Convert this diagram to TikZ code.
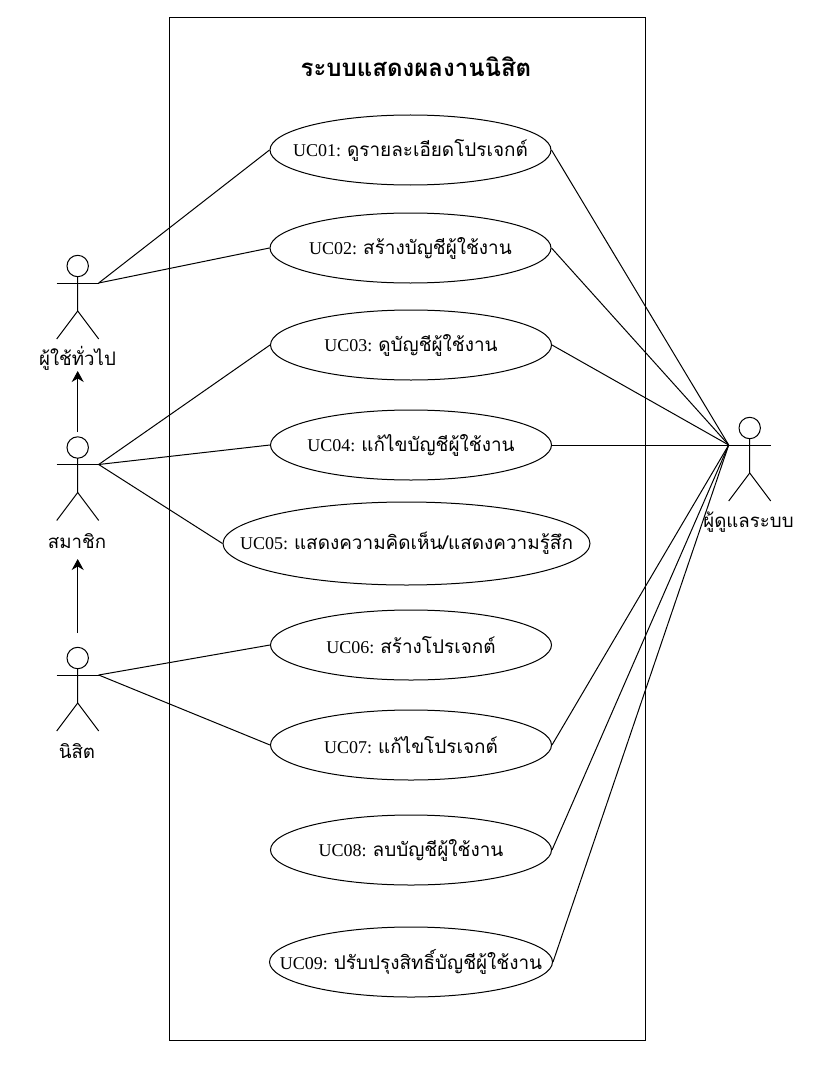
\documentclass[tikz,border=0pt]{standalone}
\usepackage{fontspec}
\setmainfont{Liberation Serif}
\newfontfamily\thaifont[Script=Thai]{Loma}
\usetikzlibrary{shapes.geometric,arrows.meta}
\newcommand{\thx}[1]{{\fontsize{14.2}{16}\selectfont\thaifont #1}}
\tikzset{
  uc/.style={draw,ellipse,inner sep=0pt,minimum width=210.75pt,minimum height=52.5pt,line width=0.75pt,
    label={[inner sep=0pt,font=\fontsize{13.5}{16}\selectfont]center:#1}},
  lnk/.style={draw,line width=0.75pt},
  actorline/.style={draw,line width=0.75pt},
  actorlabel/.style={inner sep=0pt,font=\fontsize{14}{16}\selectfont\thaifont},
  gen/.style={draw,line width=0.75pt,-{Stealth[length=8.25pt,width=9pt]}},
}
\newcommand{\actor}[3]{% name, x, arm y
  \draw[actorline] (#2,#3-17) circle[radius=10.7];
  \draw[actorline] (#2,#3-6.5) -- (#2,#3+28) -- (#2-21,#3+56);
  \draw[actorline] (#2,#3+28) -- (#2+21,#3+56);
  \draw[actorline] (#2-21,#3) coordinate (#1L) -- (#2+21,#3) coordinate (#1R);
}
\begin{document}
\begin{tikzpicture}[x=0.75pt,y=-0.75pt]
\useasboundingbox (0,0) rectangle (834,1070);
\node[draw,line width=0.75pt,minimum width=357pt,minimum height=767.25pt,inner sep=0pt] (frame) at (407,529) {};
\node[inner sep=0pt,font=\fontsize{18}{20}\selectfont\bfseries\thaifont] (title) at (416,67) {ระบบแสดงผลงานนิสิต};

\node[uc={UC01: \thx{ดูรายละเอียดโปรเจกต์}}] (u1) at (410.5,150) {};
\node[uc={UC02: \thx{สร้างบัญชีผู้ใช้งาน}}] (u2) at (410.5,248) {};
\node[uc={UC03: \thx{ดูบัญชีผู้ใช้งาน}}] (u3) at (411,345) {};
\node[uc={UC04: \thx{แก้ไขบัญชีผู้ใช้งาน}}] (u4) at (411,445) {};
\node[uc={UC05: \thx{แสดงความคิดเห็น/แสดงความรู้สึก}},minimum width=275.25pt,minimum height=62.25pt] (u5) at (406.5,543.5) {};
\node[uc={UC06: \thx{สร้างโปรเจกต์}}] (u6) at (411,645) {};
\node[uc={UC07: \thx{แก้ไขโปรเจกต์}}] (u7) at (411,745) {};
\node[uc={UC08: \thx{ลบบัญชีผู้ใช้งาน}}] (u8) at (411,850) {};
\node[uc={UC09: \thx{ปรับปรุงสิทธิ์บัญชีผู้ใช้งาน}},minimum width=212.25pt] (u9) at (411,962) {};

\actor{a}{77.7}{283}
\actor{b}{77.7}{464.5}
\actor{c}{77.7}{675}
\actor{d}{749.7}{445}

\node[actorlabel] (la) at (77.5,358) {ผู้ใช้ทั่วไป};
\node[actorlabel] (lb) at (77,541) {สมาชิก};
\node[actorlabel] (lc) at (77,751) {นิสิต};
\node[actorlabel] (ld) at (748.5,522) {ผู้ดูแลระบบ};

\coordinate (btop) at (77.7,432);
\coordinate (ctop) at (77.7,633);
\coordinate (aend) at (77.7,371);
\coordinate (bend) at (77.7,559);
\draw[gen] (btop) -- (aend);
\draw[gen] (ctop) -- (bend);

\draw[lnk] (aR) -- (u1.west);
\draw[lnk] (aR) -- (u2.west);
\draw[lnk] (bR) -- (u3.west);
\draw[lnk] (bR) -- (u4.west);
\draw[lnk] (bR) -- (u5.west);
\draw[lnk] (cR) -- (u6.west);
\draw[lnk] (cR) -- (u7.west);
\foreach \n in {u1,u2,u3,u4,u7,u8,u9} \draw[lnk] (\n.east) -- (dL);
\end{tikzpicture}
\end{document}
